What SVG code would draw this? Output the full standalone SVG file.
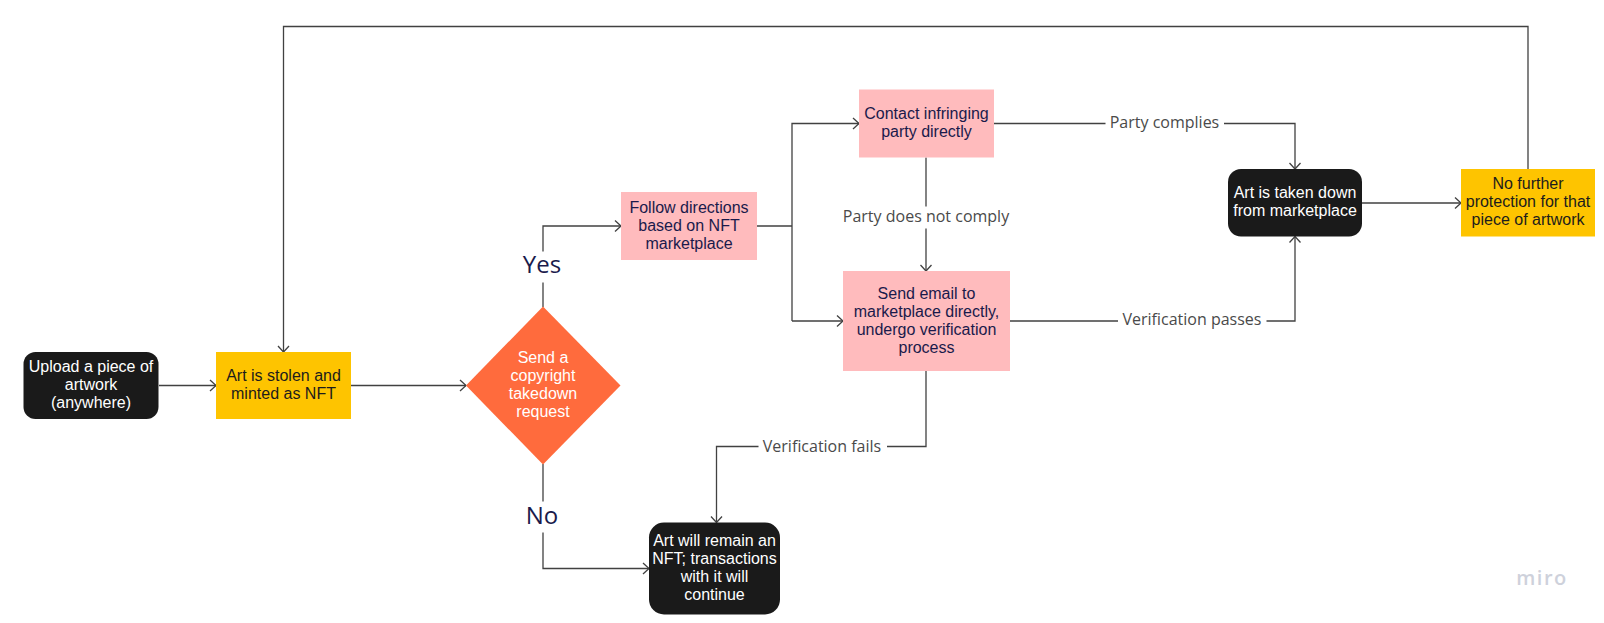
<svg xmlns="http://www.w3.org/2000/svg" width="1604" height="623" viewBox="0 0 1604 623">
<style>
.n{font-family:"Liberation Sans",Arial,sans-serif;font-size:16px;text-anchor:middle}
.w{fill:#fff}.d{fill:#1a1a4b}.k{fill:#1c1c1c}
.l{font-family:"Open Sans","Noto Sans",sans-serif;font-size:16px;text-anchor:middle;fill:#4a4a4a}
.b{font-family:"Open Sans","Noto Sans",sans-serif;font-size:24px;text-anchor:middle;fill:#1a1a4b}
.c{fill:none;stroke:#414141;stroke-width:1.3}
.black{fill:#1a1a1a}.yellow{fill:#fec400}.pink{fill:#ffbbbd}
</style>
<defs>
<marker id="a" markerUnits="userSpaceOnUse" markerWidth="14" markerHeight="14" refX="10" refY="7" orient="auto">
<path d="M4 1.5L10 7L4 12.5" fill="none" stroke="#414141" stroke-width="1.3"/>
</marker>
</defs>
<rect width="1604" height="623" fill="#fff"/>
<g id="connectors">
<path class="c" marker-end="url(#a)" d="M159 385.5H216"/>
<path class="c" marker-end="url(#a)" d="M351 385.5H466"/>
<path class="c" d="M543 307V282.5"/>
<path class="c" marker-end="url(#a)" d="M543 251.5V226H621"/>
<path class="c" d="M543 464V501.5"/>
<path class="c" marker-end="url(#a)" d="M543 532.5V568.5H649"/>
<path class="c" d="M757 226H792"/>
<path class="c" marker-end="url(#a)" d="M792 321V123.5H859"/>
<path class="c" marker-end="url(#a)" d="M792 321H843"/>
<path class="c" d="M994 123.5H1105.5"/>
<path class="c" marker-end="url(#a)" d="M1224 123.5H1295V169"/>
<path class="c" d="M926 157.5V206.5"/>
<path class="c" marker-end="url(#a)" d="M926 228.5V271"/>
<path class="c" d="M1010 321H1118"/>
<path class="c" marker-end="url(#a)" d="M1266.5 321H1295V236.5"/>
<path class="c" d="M926 371V446.5H887"/>
<path class="c" marker-end="url(#a)" d="M758.5 446.5H716.5V522.5"/>
<path class="c" marker-end="url(#a)" d="M1362 203H1461"/>
<path class="c" marker-end="url(#a)" d="M1528 169V26.5H283.5V352"/>
</g>
<g id="upload"><rect class="black" x="23.5" y="352" width="135" height="67" rx="12"/>
<text class="n w" x="91" y="372">Upload a piece of</text><text class="n w" x="91" y="390">artwork</text><text class="n w" x="91" y="408">(anywhere)</text></g>
<g id="stolen"><rect class="yellow" x="216" y="352" width="135" height="67"/>
<text class="n k" x="283.5" y="381">Art is stolen and</text><text class="n k" x="283.5" y="399">minted as NFT</text></g>
<g id="decision"><path fill="#ff6b3d" d="M543 306.5L620.5 385.5L543 464.5L466 385.5Z"/>
<text class="n w" x="543" y="363">Send a</text><text class="n w" x="543" y="381">copyright</text><text class="n w" x="543" y="399">takedown</text><text class="n w" x="543" y="417">request</text></g>
<g id="follow"><rect class="pink" x="621" y="192" width="136" height="68"/>
<text class="n d" x="689" y="212.5">Follow directions</text><text class="n d" x="689" y="230.5">based on NFT</text><text class="n d" x="689" y="248.5">marketplace</text></g>
<g id="contact"><rect class="pink" x="859" y="89.5" width="135" height="68"/>
<text class="n d" x="926.5" y="118.5">Contact infringing</text><text class="n d" x="926.5" y="136.5">party directly</text></g>
<g id="email"><rect class="pink" x="843" y="271" width="167" height="100"/>
<text class="n d" x="926.5" y="298.5">Send email to</text><text class="n d" x="926.5" y="316.5">marketplace directly,</text><text class="n d" x="926.5" y="334.5">undergo verification</text><text class="n d" x="926.5" y="352.5">process</text></g>
<g id="remain"><rect class="black" x="649" y="522.5" width="131" height="92" rx="15"/>
<text class="n w" x="714.5" y="546">Art will remain an</text><text class="n w" x="714.5" y="564">NFT; transactions</text><text class="n w" x="714.5" y="582">with it will</text><text class="n w" x="714.5" y="600">continue</text></g>
<g id="takedown"><rect class="black" x="1228" y="169" width="134" height="67.5" rx="13"/>
<text class="n w" x="1295" y="198">Art is taken down</text><text class="n w" x="1295" y="216">from marketplace</text></g>
<g id="noprotect"><rect class="yellow" x="1461" y="169" width="134" height="67.5"/>
<text class="n k" x="1528" y="189">No further</text><text class="n k" x="1528" y="207">protection for that</text><text class="n k" x="1528" y="225">piece of artwork</text></g>
<g id="labels">
<text class="b" x="542" y="273">Yes</text>
<text class="b" x="542" y="524">No</text>
<text class="l" x="1164.5" y="127.5">Party complies</text>
<text class="l" x="926" y="222">Party does not comply</text>
<text class="l" x="1192" y="325">Verification passes</text>
<text class="l" x="822" y="451.5">Verification fails</text>
<text x="1542" y="585" font-family="Open Sans,Noto Sans,sans-serif" font-size="20" font-weight="600" letter-spacing="1.5" text-anchor="middle" fill="#ced1db">miro</text>
</g>
</svg>
